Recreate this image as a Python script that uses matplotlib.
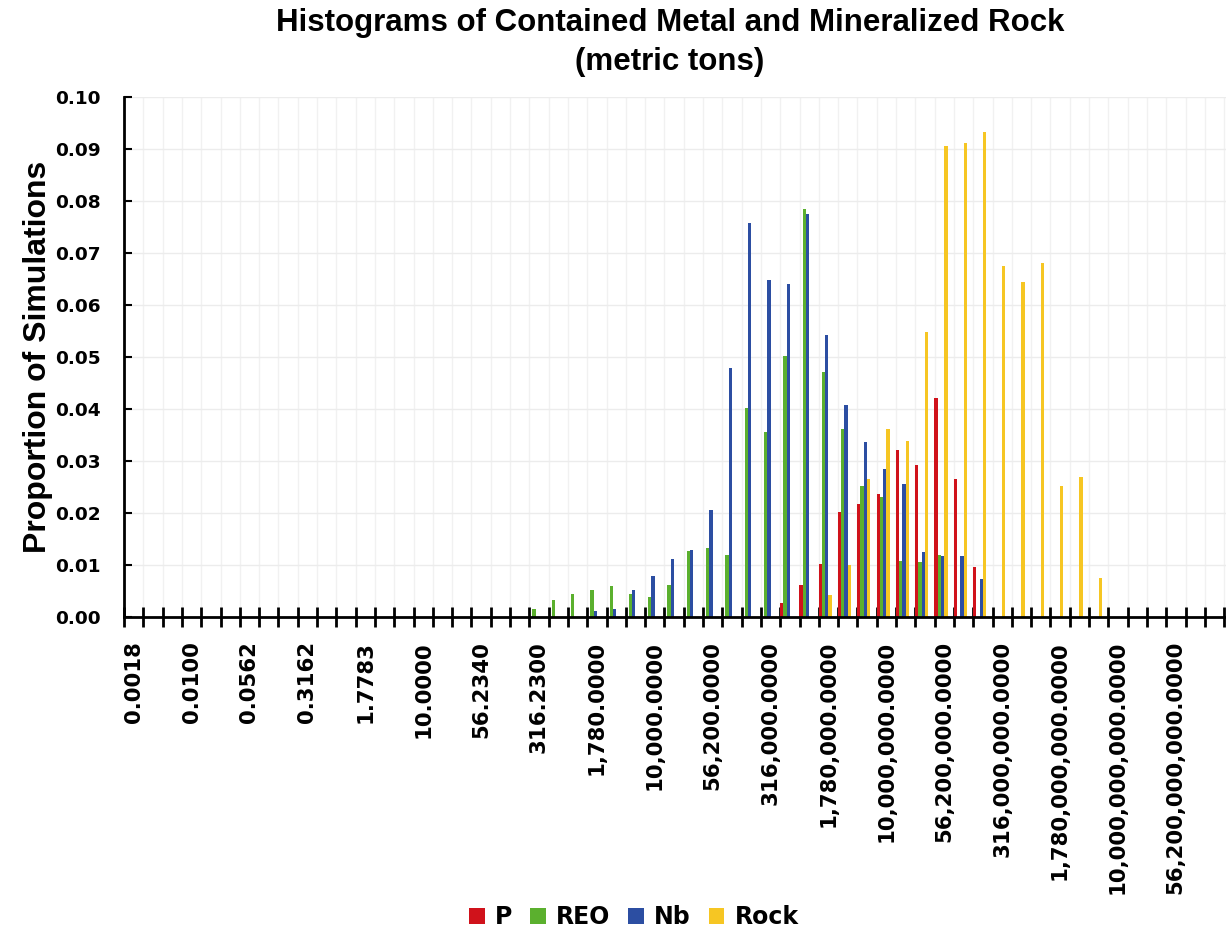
import matplotlib
matplotlib.use("Agg")
import matplotlib.pyplot as plt
from matplotlib.patches import Patch
import numpy as np

# ---------------- data ----------------
tick_labels = ["0.0018", "0.0100", "0.0562", "0.3162", "1.7783", "10.0000", "56.2340",
               "316.2300", "1,780.0000", "10,000.0000", "56,200.0000", "316,000.0000",
               "1,780,000.0000", "10,000,000.0000", "56,200,000.0000", "316,000,000.0000",
               "1,780,000,000.0000", "10,000,000,000.0000", "56,200,000,000.0000"]
series_names = ["P", "REO", "Nb", "Rock"]

P = [0, 0, 0, 0, 0, 0, 0, 0, 0, 0,
     0, 0, 0, 0, 0, 0, 0, 0, 0, 0,
     0, 0, 0, 0, 0, 0, 0, 0, 0, 0,
     0, 0, 0, 0, 0.0027, 0.0063, 0.0102, 0.0203, 0.0218, 0.0236,
     0.0322, 0.0293, 0.0422, 0.0265, 0.0096, 0, 0, 0, 0, 0,
     0, 0, 0, 0, 0, 0, 0]
REO = [0, 0, 0, 0, 0, 0, 0, 0, 0, 0,
       0, 0, 0, 0, 0, 0, 0, 0, 0, 0,
       0, 0.0015, 0.0033, 0.0045, 0.0053, 0.0060, 0.0044, 0.0039, 0.0062, 0.0127,
       0.0134, 0.0120, 0.0402, 0.0355, 0.0502, 0.0785, 0.0472, 0.0362, 0.0253, 0.0232,
       0.0108, 0.0106, 0.0120, 0, 0, 0, 0, 0, 0, 0,
       0, 0, 0, 0, 0, 0, 0]
Nb = [0, 0, 0, 0, 0, 0, 0, 0, 0, 0,
      0, 0, 0, 0, 0, 0, 0, 0, 0, 0,
      0, 0, 0, 0, 0.0013, 0.0015, 0.0053, 0.0079, 0.0112, 0.0130,
      0.0206, 0.0478, 0.0757, 0.0648, 0.0640, 0.0775, 0.0542, 0.0408, 0.0336, 0.0285,
      0.0257, 0.0125, 0.0118, 0.0117, 0.0074, 0, 0, 0, 0, 0,
      0, 0, 0, 0, 0, 0, 0]
Rock = [0, 0, 0, 0, 0, 0, 0, 0, 0, 0,
        0, 0, 0, 0, 0, 0, 0, 0, 0, 0,
        0, 0, 0, 0, 0, 0, 0, 0, 0, 0,
        0, 0, 0, 0, 0, 0, 0.0043, 0.0100, 0.0265, 0.0362,
        0.0338, 0.0548, 0.0905, 0.0912, 0.0932, 0.0675, 0.0645, 0.0680, 0.0253, 0.0270,
        0.0076, 0, 0, 0, 0, 0, 0]

colors = ["#d0121b", "#5bb02e", "#2c4ea2", "#f6c623"]

# ---------------- figure ----------------
fig = plt.figure(figsize=(12.26, 9.35), dpi=100)
ax = fig.add_axes([124 / 1226, 1 - 617.3 / 935, 1102 / 1226, (617.3 - 96.7) / 935])

n_cat = len(P)
idx = np.arange(n_cat)
bar_w = 0.17
for k, (vals, col) in enumerate(zip([P, REO, Nb, Rock], colors)):
    ax.bar(idx + bar_w * (k + 0.5) - 0.01, vals, width=bar_w, color=col, linewidth=0, zorder=3)

ax.set_xlim(0, 1102 / 19.3)
ax.set_ylim(0, 0.10)

# grid
for xb in range(0, n_cat + 1):
    ax.axvline(xb, color="#f1f1f1", lw=1.0, zorder=0)
for yv in np.arange(0.01, 0.101, 0.01):
    ax.axhline(yv, color="#ececec", lw=1.0, zorder=0)

# spines
for s in ["top", "right"]:
    ax.spines[s].set_visible(False)
for s in ["left", "bottom"]:
    ax.spines[s].set_linewidth(2.0)
    ax.spines[s].set_zorder(5)

# x ticks: boundaries as minor (crossing), labels at category centres
ax.set_xticks(np.arange(0, n_cat + 1), minor=True)
ax.set_xticks(np.arange(0, 3 * len(tick_labels), 3) + 0.5)
ax.set_xticklabels(tick_labels, rotation=90, fontsize=15.3, fontweight="bold",
                   family="DejaVu Sans", va="top")
ax.tick_params(axis="x", which="major", length=0, pad=17)
ax.tick_params(axis="x", which="minor", direction="inout", length=14, width=2.0)

# y ticks
ax.set_yticks(np.arange(0, 0.101, 0.01))
ax.set_yticklabels([f"{v:.2f}" for v in np.arange(0, 0.101, 0.01)],
                   fontsize=13.3, fontweight="bold", family="DejaVu Sans")
ax.tick_params(axis="y", direction="in", length=6, width=1.5, pad=17)

# titles
fig.text(670 / 1226, 1 - 23 / 935, "Histograms of Contained Metal and Mineralized Rock",
         ha="center", va="center", fontsize=22.5, fontweight="bold", family="Liberation Sans")
fig.text(670 / 1226, 1 - 62 / 935, "(metric tons)",
         ha="center", va="center", fontsize=22.5, fontweight="bold", family="Liberation Sans")
fig.text(38 / 1226, 1 - 357 / 935, "Proportion of Simulations", rotation=90,
         ha="center", va="center", fontsize=23, fontweight="bold", family="Liberation Sans")

# legend
handles = [Patch(facecolor=c, edgecolor="none", label=n) for c, n in zip(colors, series_names)]
fig.legend(handles=handles, loc="center", bbox_to_anchor=(634 / 1226, 1 - 917 / 935),
           ncol=4, frameon=False, handlelength=0.65, handleheight=0.65,
           handletextpad=0.45, columnspacing=0.75,
           prop={"family": "DejaVu Sans", "weight": "bold", "size": 17})

fig.savefig("out.png", dpi=100)
